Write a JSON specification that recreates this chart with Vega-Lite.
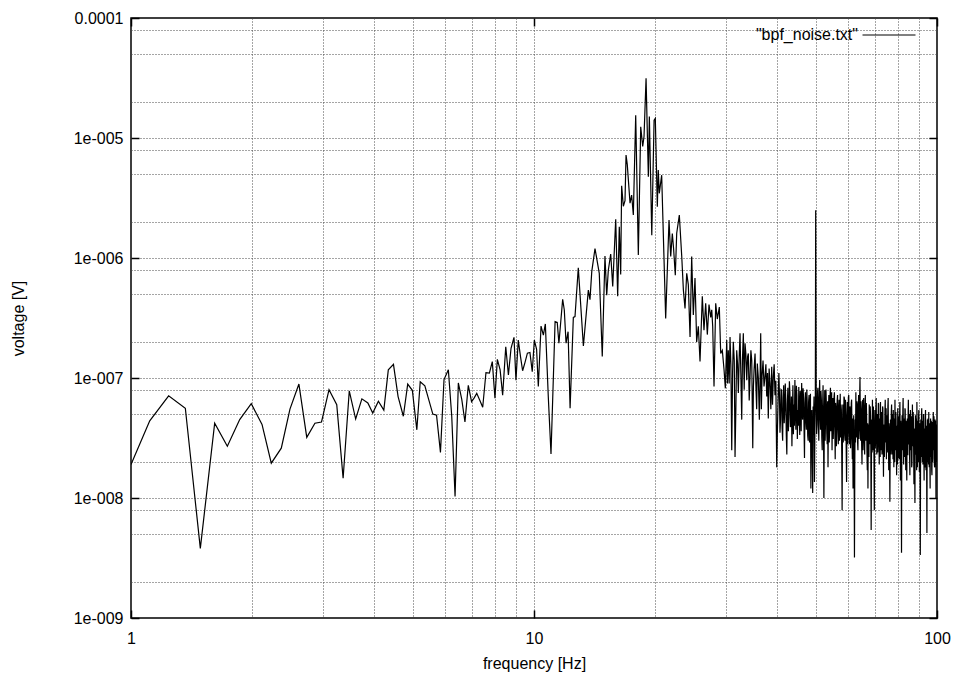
{
"$schema": "https://vega.github.io/schema/vega-lite/v6.json",
"width": 806,
"height": 600,
"autosize": {"type": "none"},
"padding": {"left": 131, "top": 18, "right": 25, "bottom": 63},
"background": "white",
"config": {
  "view": {"stroke": "#000", "strokeWidth": 1.5},
  "font": "Liberation Sans",
  "axis": {"labelFont": "Liberation Sans", "titleFont": "Liberation Sans", "labelFontSize": 16, "titleFontSize": 16, "labelColor": "#000", "titleColor": "#000", "titleFontWeight": "normal", "tickColor": "#000", "domain": false, "labelFlush": false, "labelOverlap": false, "labelBound": false}
},
"data": {"values": [
{"f":1,"v":1.9e-8},{"f":1.113,"v":4.4e-8},{"f":1.24,"v":7.1e-8},{"f":1.364,"v":5.6e-8},{"f":1.486,"v":3.8e-9},{"f":1.613,"v":4.2e-8},{"f":1.734,"v":2.7e-8},{"f":1.861,"v":4.5e-8},{"f":1.988,"v":6.1e-8},{"f":2.114,"v":4.1e-8},{"f":2.229,"v":1.95e-8},{"f":2.36,"v":2.6e-8},{"f":2.48,"v":5.5e-8},
{"f":2.61,"v":8.9e-8},{"f":2.73,"v":3.2e-8},{"f":2.86,"v":4.2e-8},{"f":2.97,"v":4.3e-8},{"f":3.1,"v":8.0e-8},{"f":3.24,"v":6.0e-8},{"f":3.36,"v":1.46e-8},{"f":3.48,"v":7.8e-8},{"f":3.61,"v":4.55e-8},{"f":3.74,"v":6.7e-8},{"f":3.87,"v":6.2e-8},{"f":3.98,"v":5.1e-8},{"f":4.11,"v":6.4e-8},{"f":4.24,"v":5.4e-8},{"f":4.35,"v":1.17e-7},{"f":4.48,"v":1.3e-7},{"f":4.6,"v":7.0e-8},{"f":4.74,"v":4.8e-8},{"f":4.86,"v":8.9e-8},{"f":4.99,"v":7.9e-8},{"f":5.12,"v":3.7e-8},{"f":5.22,"v":9.3e-8},{"f":5.36,"v":8.6e-8},{"f":5.48,"v":6.6e-8},{"f":5.61,"v":5.0e-8},{"f":5.73,"v":4.9e-8},{"f":5.86,"v":2.4e-8},{"f":5.98,"v":9.7e-8},
{"f":6.13,"v":1.17e-7},{"f":6.25,"v":4.8e-8},{"f":6.37,"v":1.03e-8},{"f":6.49,"v":9.1e-8},{"f":6.62,"v":6.6e-8},{"f":6.74,"v":4.3e-8},{"f":6.87,"v":8.7e-8},{"f":7.0,"v":6.35e-8},{"f":7.1,"v":6.8e-8},{"f":7.21,"v":7.45e-8},{"f":7.34,"v":6.5e-8},{"f":7.46,"v":5.7e-8},{"f":7.6,"v":1.11e-7},{"f":7.75,"v":1.1e-7},{"f":7.88,"v":1.37e-7},{"f":8.0,"v":6.8e-8},{"f":8.11,"v":1.43e-7},{"f":8.24,"v":1.17e-7},{"f":8.36,"v":7.2e-8},{"f":8.51,"v":1.82e-7},{"f":8.64,"v":1.06e-7},{"f":8.77,"v":1.77e-7},{"f":8.92,"v":2.18e-7},{"f":9.02,"v":9.6e-8},{"f":9.14,"v":2.07e-7},{"f":9.26,"v":1.5e-7},{"f":9.37,"v":1.15e-7},{"f":9.5,"v":1.35e-7},{"f":9.63,"v":1.61e-7},{"f":9.77,"v":1.63e-7},{"f":9.9,"v":1.13e-7},
{"f":10.02,"v":2.07e-7},{"f":10.15,"v":1.73e-7},{"f":10.25,"v":8.5e-8},{"f":10.41,"v":2.71e-7},{"f":10.55,"v":2.28e-7},{"f":10.67,"v":2.82e-7},{"f":10.85,"v":7.0e-8},{"f":11.02,"v":2.33e-8},{"f":11.28,"v":2.95e-7},{"f":11.42,"v":2.9e-7},{"f":11.53,"v":1.95e-7},{"f":11.78,"v":4.53e-7},{"f":11.89,"v":3.69e-7},{"f":12.01,"v":1.95e-7},{"f":12.15,"v":2.43e-7},{"f":12.29,"v":5.6e-8},{"f":12.52,"v":3.2e-7},{"f":12.64,"v":3.25e-7},{"f":12.88,"v":8.3e-7},{"f":13.26,"v":1.85e-7},{"f":13.64,"v":5.4e-7},{"f":13.77,"v":4.5e-7},{"f":13.91,"v":7.7e-7},{"f":14.17,"v":1.2e-6},{"f":14.52,"v":7.45e-7},{"f":14.77,"v":1.51e-7},{"f":15.0,"v":1.04e-6},{"f":15.15,"v":4.9e-7},{"f":15.29,"v":7.9e-7},{"f":15.5,"v":1.08e-6},{"f":15.68,"v":5.8e-7},{"f":15.95,"v":2.1e-6},{"f":16.13,"v":4.8e-7},{"f":16.28,"v":1.82e-6},{"f":16.41,"v":7.3e-7},{"f":16.5,"v":4.0e-6},{"f":16.66,"v":2.7e-6},{"f":16.82,"v":3.0e-6},{"f":16.92,"v":7.2e-6},{"f":17.04,"v":6.0e-6},{"f":17.31,"v":2.86e-6},{"f":17.47,"v":3.35e-6},{"f":17.64,"v":2.28e-6},{"f":17.88,"v":1.55e-5},{"f":18.15,"v":1.06e-6},{"f":18.4,"v":1.24e-5},{"f":18.61,"v":8.5e-6},{"f":18.75,"v":1.03e-5},{"f":18.97,"v":3.14e-5},{"f":19.22,"v":4.76e-6},{"f":19.33,"v":1.51e-5},{"f":19.6,"v":1.55e-6},{"f":19.86,"v":1.41e-5},{"f":20.0,"v":1.46e-5},{"f":20.23,"v":2.68e-6},{"f":20.34,"v":5.4e-6},{"f":20.46,"v":3.46e-6},{"f":20.74,"v":4.9e-6},{"f":21.22,"v":3.14e-7},{"f":21.63,"v":2.07e-6},{"f":21.84,"v":1.03e-6},{"f":22.04,"v":1.6e-6},{"f":22.2,"v":1.2e-6},{"f":22.42,"v":7.2e-7},{"f":22.6,"v":1.61e-6},{"f":22.94,"v":2.28e-6},
{"f":23.26,"v":1.03e-6},{"f":23.48,"v":5.4e-7},{"f":23.7,"v":3.8e-7},{"f":23.93,"v":7.45e-7},{"f":24.15,"v":6.0e-7},{"f":24.39,"v":2.2e-7},{"f":24.62,"v":1.03e-6},{"f":24.85,"v":3.35e-7},{"f":25.09,"v":6.8e-7},{"f":25.33,"v":2.0e-7},{"f":25.57,"v":2.7e-7},{"f":25.82,"v":1.37e-7},{"f":26.16,"v":4.8e-7},{"f":26.41,"v":2.5e-7},{"f":26.67,"v":4.2e-7},{"f":26.92,"v":2.3e-7},{"f":27.18,"v":4.1e-7},{"f":27.45,"v":3.2e-7},{"f":27.61,"v":3.7e-7},{"f":27.76,"v":2.7e-7},{"f":27.97,"v":8.5e-8},{"f":28.24,"v":4.2e-7},{"f":28.5,"v":3.1e-7},{"f":28.83,"v":3.9e-7},{"f":29.06,"v":1.6e-7},{"f":29.33,"v":1.7e-7},{"f":29.62,"v":1.17e-7},{"f":29.84,"v":8.2e-8},{"f":30.08,"v":2.07e-7},{"f":30.2,"v":9.0e-8},{"f":30.35,"v":1.7e-7},{"f":30.5,"v":9.0e-8},{"f":30.65,"v":2.2e-7},{"f":30.8,"v":1.3e-7},{"f":30.95,"v":2.5e-8},{"f":31.1,"v":1.1e-7},{"f":31.23,"v":2.0e-7},{"f":31.4,"v":1.4e-7},{"f":31.54,"v":2.2e-8},{"f":31.7,"v":6.0e-8},{"f":31.84,"v":1.7e-7},{"f":32.0,"v":1.3e-7},{"f":32.14,"v":7.5e-8},{"f":32.3,"v":1.5e-7},{"f":32.45,"v":2.36e-7},{"f":32.6,"v":1.1e-7},{"f":32.77,"v":4.5e-8},{"f":32.9,"v":1.4e-7},{"f":33.07,"v":2.36e-7},{"f":33.23,"v":8.0e-8},{"f":33.39,"v":1.95e-7},{"f":33.55,"v":1.6e-7},{"f":33.72,"v":9.6e-8},{"f":33.88,"v":1.5e-7},{"f":34.03,"v":1.6e-7},{"f":34.2,"v":6.5e-8},{"f":34.36,"v":1.03e-7},{"f":34.53,"v":1.7e-7},{"f":34.7,"v":1.4e-7},{"f":34.9,"v":2.6e-8},{"f":35.03,"v":8.5e-8},{"f":35.16,"v":1.17e-7},{"f":35.36,"v":1.6e-7},{"f":35.56,"v":7.9e-8},{"f":35.69,"v":5.5e-8},{"f":35.82,"v":1.32e-7},{"f":36.03,"v":1.0e-7},{"f":36.24,"v":4.5e-8},{"f":36.38,"v":9.0e-8},{"f":36.52,"v":2.36e-7},{"f":36.66,"v":5.5e-8},{"f":36.8,"v":1.03e-7},{"f":37.01,"v":1.4e-7},{"f":37.22,"v":8.5e-8},{"f":37.43,"v":1.03e-7},{"f":37.62,"v":1.3e-7},{"f":37.8,"v":7.0e-8},{"f":37.97,"v":1.1e-7},{"f":38.14,"v":4.6e-8},{"f":38.32,"v":1.2e-7},{"f":38.51,"v":9.0e-8},{"f":38.7,"v":5.5e-8},{"f":38.89,"v":1.24e-7},{"f":39.07,"v":6.0e-8},{"f":39.25,"v":1.03e-7},{"f":39.44,"v":1.3e-7},{"f":39.63,"v":7.2e-8},{"f":39.82,"v":9.5e-8},{"f":40.02,"v":1.8e-8},{"f":40.2,"v":4.0e-8},{"f":40.39,"v":7.9e-8},{"f":40.52,"v":1.1e-7},
{"f":40.65,"v":7.2e-8},{"f":40.775,"v":3.5e-8},{"f":40.9,"v":4.5e-8},{"f":41.025,"v":8.0e-8},{"f":41.15,"v":7.9e-8},{"f":41.275,"v":3.8e-8},{"f":41.4,"v":3.0e-8},{"f":41.525,"v":6.8e-8},{"f":41.65,"v":8.7e-8},{"f":41.775,"v":4.2e-8},{"f":41.9,"v":5.4e-8},{"f":42.025,"v":9.0e-8},{"f":42.15,"v":6.6e-8},{"f":42.275,"v":3.3e-8},{"f":42.4,"v":2.3e-8},{"f":42.525,"v":6.0e-8},{"f":42.65,"v":8.3e-8},{"f":42.775,"v":3.6e-8},{"f":42.9,"v":4.9e-8},{"f":43.025,"v":9.4e-8},{"f":43.15,"v":7.6e-8},{"f":43.275,"v":3.9e-8},{"f":43.4,"v":4.1e-8},{"f":43.525,"v":7.0e-8},{"f":43.65,"v":2.7e-8},{"f":43.775,"v":5.2e-8},{"f":43.9,"v":8.7e-8},{"f":44.025,"v":3.4e-8},{"f":44.15,"v":6.0e-8},{"f":44.275,"v":4.0e-8},{"f":44.4,"v":9.6e-8},{"f":44.525,"v":5.6e-8},{"f":44.65,"v":3.7e-8},{"f":44.775,"v":8.6e-8},{"f":44.9,"v":7.2e-8},{"f":45.025,"v":3.1e-8},{"f":45.15,"v":5.4e-8},{"f":45.275,"v":4.0e-8},{"f":45.4,"v":8.4e-8},{"f":45.525,"v":5.0e-8},{"f":45.65,"v":3.35e-8},{"f":45.775,"v":7.8e-8},{"f":45.9,"v":6.6e-8},{"f":46.025,"v":3.6e-8},{"f":46.15,"v":9.1e-8},{"f":46.275,"v":5.8e-8},{"f":46.4,"v":4.5e-8},{"f":46.525,"v":8.2e-8},{"f":46.65,"v":6.8e-8},{"f":46.775,"v":3.9e-8},{"f":46.9,"v":2.15e-8},{"f":47.025,"v":6.2e-8},{"f":47.15,"v":7.6e-8},{"f":47.275,"v":4.4e-8},{"f":47.4,"v":3.7e-8},{"f":47.525,"v":8.0e-8},{"f":47.65,"v":6.0e-8},{"f":47.775,"v":3.3e-8},{"f":47.9,"v":3.0e-8},{"f":48.025,"v":6.4e-8},{"f":48.15,"v":7.2e-8},{"f":48.275,"v":2.9e-8},{"f":48.4,"v":4.9e-8},{"f":48.525,"v":7.4e-8},{"f":48.65,"v":1.2e-8},{"f":48.775,"v":4.0e-8},{"f":48.9,"v":5.4e-8},{"f":49.025,"v":2.6e-8},{"f":49.15,"v":1.1e-8},{"f":49.275,"v":5.8e-8},{"f":49.4,"v":4.5e-8},{"f":49.525,"v":7.0e-8},{"f":49.65,"v":1.36e-8},{"f":49.775,"v":3.6e-8},{"f":49.9,"v":6.6e-8},{"f":50.0,"v":2.5e-6},{"f":50.15,"v":7.2e-8},{"f":50.275,"v":3.4e-8},{"f":50.4,"v":4.1e-8},{"f":50.525,"v":7.6e-8},{"f":50.65,"v":8.3e-8},{"f":50.775,"v":4.4e-8},{"f":50.9,"v":3.0e-8},{"f":51.025,"v":6.6e-8},{"f":51.15,"v":9.6e-8},{"f":51.275,"v":5.0e-8},{"f":51.4,"v":3.7e-8},{"f":51.525,"v":7.8e-8},{"f":51.65,"v":6.6e-8},{"f":51.775,"v":3.2e-8},{"f":51.9,"v":2.5e-8},{"f":52.025,"v":5.8e-8},{"f":52.15,"v":8.7e-8},{"f":52.275,"v":4.6e-8},{"f":52.4,"v":1.0e-8},{"f":52.525,"v":4.2e-8},{"f":52.65,"v":7.9e-8},{"f":52.775,"v":3.0e-8},{"f":52.9,"v":4.5e-8},{"f":53.025,"v":8.0e-8},{"f":53.15,"v":6.0e-8},{"f":53.275,"v":3.5e-8},{"f":53.4,"v":2.8e-8},{"f":53.525,"v":6.4e-8},{"f":53.65,"v":1.8e-8},{"f":53.775,"v":4.8e-8},{"f":53.9,"v":7.2e-8},{"f":54.025,"v":2.9e-8},{"f":54.15,"v":3.7e-8},{"f":54.275,"v":7.0e-8},{"f":54.4,"v":8.3e-8},{"f":54.525,"v":3.6e-8},{"f":54.65,"v":4.9e-8},{"f":54.775,"v":7.6e-8},{"f":54.9,"v":2.5e-8},{"f":55.025,"v":5.4e-8},{"f":55.15,"v":6.8e-8},{"f":55.275,"v":3.1e-8},{"f":55.4,"v":4.1e-8},{"f":55.525,"v":6.9e-8},{"f":55.65,"v":7.6e-8},{"f":55.775,"v":3.8e-8},{"f":55.9,"v":2.1e-8},{"f":56.025,"v":6.2e-8},{"f":56.15,"v":5.6e-8},{"f":56.275,"v":2.7e-8},{"f":56.4,"v":3.7e-8},{"f":56.525,"v":6.5e-8},{"f":56.65,"v":7.2e-8},{"f":56.775,"v":3.9e-8},{"f":56.9,"v":2.8e-8},{"f":57.025,"v":5.5e-8},{"f":57.15,"v":6.6e-8},{"f":57.275,"v":3.0e-8},{"f":57.4,"v":4.5e-8},{"f":57.525,"v":7.4e-8},{"f":57.65,"v":3.2e-8},{"f":57.775,"v":6.0e-8},{"f":57.9,"v":5.4e-8},{"f":58.025,"v":2.4e-8},{"f":58.15,"v":7.9e-9},{"f":58.275,"v":3.8e-8},{"f":58.4,"v":6.0e-8},{"f":58.525,"v":2.9e-8},{"f":58.65,"v":3.7e-8},{"f":58.775,"v":7.0e-8},{"f":58.9,"v":6.8e-8},{"f":59.025,"v":3.3e-8},{"f":59.15,"v":3.0e-8},{"f":59.275,"v":6.6e-8},{"f":59.4,"v":4.9e-8},{"f":59.525,"v":2.6e-8},{"f":59.65,"v":1.36e-8},{"f":59.775,"v":4.4e-8},{"f":59.9,"v":6.3e-8},{"f":60.025,"v":2.8e-8},
{"f":60.15,"v":4.1e-8},{"f":60.275,"v":6.9e-8},{"f":60.4,"v":7.2e-8},{"f":60.525,"v":3.4e-8},{"f":60.65,"v":2.8e-8},{"f":60.775,"v":5.8e-8},{"f":60.9,"v":5.4e-8},{"f":61.025,"v":2.6e-8},{"f":61.15,"v":3.35e-8},{"f":61.275,"v":6.2e-8},{"f":61.4,"v":6.6e-8},{"f":61.525,"v":3.3e-8},{"f":61.65,"v":2.1e-8},{"f":61.775,"v":4.6e-8},{"f":61.9,"v":1.2e-8},{"f":62.025,"v":3.9e-8},{"f":62.15,"v":4.9e-8},{"f":62.275,"v":2.2e-8},{"f":62.4,"v":3.2e-9},{"f":62.525,"v":2.0e-8},{"f":62.65,"v":4.5e-8},{"f":62.775,"v":2.9e-8},{"f":62.9,"v":7.6e-8},{"f":63.025,"v":4.2e-8},{"f":63.15,"v":3.2e-8},{"f":63.275,"v":6.4e-8},{"f":63.4,"v":6.0e-8},{"f":63.525,"v":2.9e-8},{"f":63.65,"v":2.5e-8},{"f":63.775,"v":5.6e-8},{"f":63.9,"v":7.2e-8},{"f":64.025,"v":3.1e-8},{"f":64.15,"v":3.7e-8},{"f":64.275,"v":6.8e-8},{"f":64.4,"v":1.02e-7},{"f":64.525,"v":4.6e-8},{"f":64.65,"v":3.0e-8},{"f":64.775,"v":6.4e-8},{"f":64.9,"v":5.4e-8},{"f":65.025,"v":2.7e-8},{"f":65.15,"v":1.9e-8},{"f":65.275,"v":4.8e-8},{"f":65.4,"v":6.6e-8},{"f":65.525,"v":2.5e-8},{"f":65.65,"v":3.7e-8},{"f":65.775,"v":6.8e-8},{"f":65.9,"v":5.2e-8},{"f":66.025,"v":2.9e-8},{"f":66.15,"v":2.3e-8},{"f":66.275,"v":5.6e-8},{"f":66.4,"v":7.2e-8},{"f":66.525,"v":3.3e-8},{"f":66.65,"v":3.0e-8},{"f":66.775,"v":6.2e-8},{"f":66.9,"v":4.6e-8},{"f":67.025,"v":2.4e-8},{"f":67.15,"v":1.7e-8},{"f":67.275,"v":4.2e-8},{"f":67.4,"v":1.2e-8},{"f":67.525,"v":3.6e-8},{"f":67.65,"v":4.1e-8},{"f":67.775,"v":2.2e-8},{"f":67.9,"v":6.0e-8},{"f":68.025,"v":3.4e-8},{"f":68.15,"v":2.8e-8},{"f":68.275,"v":5.8e-8},{"f":68.4,"v":4.9e-8},{"f":68.525,"v":2.5e-8},{"f":68.65,"v":5.4e-9},{"f":68.775,"v":2.6e-8},{"f":68.9,"v":4.5e-8},{"f":69.025,"v":2.4e-8},{"f":69.15,"v":6.6e-8},{"f":69.275,"v":3.6e-8},{"f":69.4,"v":2.5e-8},{"f":69.525,"v":5.8e-8},{"f":69.65,"v":4.1e-8},{"f":69.775,"v":2.0e-8},{"f":69.9,"v":7.9e-9},{"f":70.025,"v":3.3e-8},
{"f":70.15,"v":5.4e-8},{"f":70.275,"v":2.6e-8},{"f":70.4,"v":3.0e-8},{"f":70.525,"v":5.6e-8},{"f":70.65,"v":6.8e-8},{"f":70.775,"v":3.5e-8},{"f":70.9,"v":2.3e-8},{"f":71.025,"v":5.0e-8},{"f":71.15,"v":4.5e-8},{"f":71.275,"v":2.4e-8},{"f":71.4,"v":3.35e-8},{"f":71.525,"v":6.2e-8},{"f":71.65,"v":6.0e-8},{"f":71.775,"v":3.0e-8},{"f":71.9,"v":1.9e-8},{"f":72.025,"v":4.6e-8},{"f":72.15,"v":3.8e-8},{"f":72.275,"v":2.2e-8},{"f":72.4,"v":6.3e-8},{"f":72.525,"v":3.4e-8},{"f":72.65,"v":2.5e-8},{"f":72.775,"v":5.2e-8},{"f":72.9,"v":4.6e-8},{"f":73.025,"v":2.3e-8},{"f":73.15,"v":3.0e-8},{"f":73.275,"v":5.8e-8},{"f":73.4,"v":5.6e-8},{"f":73.525,"v":2.8e-8},{"f":73.65,"v":1.5e-8},{"f":73.775,"v":3.9e-8},{"f":73.9,"v":4.1e-8},{"f":74.025,"v":2.2e-8},{"f":74.15,"v":2.8e-8},{"f":74.275,"v":5.4e-8},{"f":74.4,"v":6.6e-8},{"f":74.525,"v":2.9e-8},{"f":74.65,"v":3.35e-8},{"f":74.775,"v":5.6e-8},{"f":74.9,"v":2.1e-8},{"f":75.025,"v":4.4e-8},{"f":75.15,"v":4.9e-8},{"f":75.275,"v":2.4e-8},{"f":75.4,"v":3.0e-8},{"f":75.525,"v":5.8e-8},{"f":75.65,"v":6.8e-8},{"f":75.775,"v":3.2e-8},{"f":75.9,"v":1.7e-8},{"f":76.025,"v":4.2e-8},{"f":76.15,"v":3.7e-8},{"f":76.275,"v":2.0e-8},{"f":76.4,"v":9.3e-9},{"f":76.525,"v":2.6e-8},{"f":76.65,"v":4.5e-8},{"f":76.775,"v":2.3e-8},{"f":76.9,"v":2.8e-8},{"f":77.025,"v":5.2e-8},{"f":77.15,"v":6.0e-8},{"f":77.275,"v":3.1e-8},{"f":77.4,"v":2.3e-8},{"f":77.525,"v":5.0e-8},{"f":77.65,"v":3.8e-8},{"f":77.775,"v":2.1e-8},{"f":77.9,"v":5.4e-8},{"f":78.025,"v":3.0e-8},{"f":78.15,"v":1.8e-8},{"f":78.275,"v":4.6e-8},{"f":78.4,"v":3.5e-8},{"f":78.525,"v":2.0e-8},{"f":78.65,"v":6.6e-8},{"f":78.775,"v":3.4e-8},{"f":78.9,"v":2.5e-8},{"f":79.025,"v":5.2e-8},{"f":79.15,"v":4.5e-8},{"f":79.275,"v":2.6e-8},{"f":79.4,"v":1.55e-8},{"f":79.525,"v":4.0e-8},{"f":79.65,"v":3.2e-8},{"f":79.775,"v":1.9e-8},{"f":79.9,"v":5.6e-8},{"f":80.025,"v":3.0e-8},
{"f":80.15,"v":2.15e-8},{"f":80.275,"v":4.8e-8},{"f":80.4,"v":4.1e-8},{"f":80.525,"v":2.1e-8},{"f":80.65,"v":2.8e-8},{"f":80.775,"v":5.0e-8},{"f":80.9,"v":6.3e-8},{"f":81.025,"v":3.2e-8},{"f":81.15,"v":1.4e-8},{"f":81.275,"v":4.4e-8},{"f":81.4,"v":3.7e-8},{"f":81.525,"v":1.6e-8},{"f":81.65,"v":3.5e-9},{"f":81.775,"v":2.2e-8},{"f":81.9,"v":4.9e-8},{"f":82.025,"v":2.5e-8},{"f":82.15,"v":2.6e-8},{"f":82.275,"v":5.4e-8},{"f":82.4,"v":6.8e-8},{"f":82.525,"v":3.3e-8},{"f":82.65,"v":1.9e-8},{"f":82.775,"v":4.6e-8},{"f":82.9,"v":4.1e-8},{"f":83.025,"v":2.2e-8},{"f":83.15,"v":3.0e-8},{"f":83.275,"v":5.6e-8},{"f":83.4,"v":5.4e-8},{"f":83.525,"v":2.6e-8},{"f":83.65,"v":1.7e-8},{"f":83.775,"v":4.4e-8},{"f":83.9,"v":3.5e-8},{"f":84.025,"v":2.0e-8},{"f":84.15,"v":1.4e-8},{"f":84.275,"v":3.6e-8},{"f":84.4,"v":4.6e-8},{"f":84.525,"v":2.3e-8},{"f":84.65,"v":2.3e-8},{"f":84.775,"v":4.8e-8},{"f":84.9,"v":6.6e-8},{"f":85.025,"v":3.0e-8},{"f":85.15,"v":2.8e-8},{"f":85.275,"v":5.0e-8},{"f":85.4,"v":4.1e-8},{"f":85.525,"v":2.1e-8},{"f":85.65,"v":1.55e-8},{"f":85.775,"v":4.0e-8},{"f":85.9,"v":5.4e-8},{"f":86.025,"v":2.6e-8},{"f":86.15,"v":2.5e-8},{"f":86.275,"v":4.8e-8},{"f":86.4,"v":3.35e-8},{"f":86.525,"v":1.8e-8},{"f":86.65,"v":1.9e-8},{"f":86.775,"v":4.2e-8},{"f":86.9,"v":6.0e-8},{"f":87.025,"v":2.7e-8},{"f":87.15,"v":3.0e-8},{"f":87.275,"v":5.2e-8},{"f":87.4,"v":4.5e-8},{"f":87.525,"v":2.3e-8},{"f":87.65,"v":1.3e-8},{"f":87.775,"v":3.8e-8},{"f":87.9,"v":3.7e-8},{"f":88.025,"v":1.9e-8},{"f":88.15,"v":9.1e-9},{"f":88.275,"v":3.1e-8},{"f":88.4,"v":4.9e-8},{"f":88.525,"v":2.4e-8},{"f":88.65,"v":2.3e-8},{"f":88.775,"v":4.6e-8},{"f":88.9,"v":3.2e-8},{"f":89.025,"v":1.7e-8},{"f":89.15,"v":6.3e-8},{"f":89.275,"v":3.0e-8},{"f":89.4,"v":1.8e-8},{"f":89.525,"v":4.4e-8},{"f":89.65,"v":4.1e-8},{"f":89.775,"v":2.0e-8},{"f":89.9,"v":2.6e-8},{"f":90.025,"v":4.8e-8},
{"f":90.15,"v":5.4e-8},{"f":90.275,"v":2.8e-8},{"f":90.4,"v":1.65e-8},{"f":90.525,"v":4.2e-8},{"f":90.65,"v":3.5e-8},{"f":90.775,"v":1.6e-8},{"f":90.9,"v":3.35e-9},{"f":91.025,"v":2.0e-8},{"f":91.15,"v":4.5e-8},{"f":91.275,"v":2.2e-8},{"f":91.4,"v":2.5e-8},{"f":91.525,"v":4.8e-8},{"f":91.65,"v":5.6e-8},{"f":91.775,"v":2.8e-8},{"f":91.9,"v":2.0e-8},{"f":92.025,"v":4.4e-8},{"f":92.15,"v":3.7e-8},{"f":92.275,"v":1.9e-8},{"f":92.4,"v":2.8e-8},{"f":92.525,"v":5.0e-8},{"f":92.65,"v":4.9e-8},{"f":92.775,"v":2.4e-8},{"f":92.9,"v":1.4e-8},{"f":93.025,"v":3.6e-8},{"f":93.15,"v":3.8e-8},{"f":93.275,"v":1.8e-8},{"f":93.4,"v":2.3e-8},{"f":93.525,"v":4.6e-8},{"f":93.65,"v":5.4e-8},{"f":93.775,"v":2.6e-8},{"f":93.9,"v":1.7e-8},{"f":94.025,"v":4.0e-8},{"f":94.15,"v":3.0e-8},{"f":94.275,"v":1.5e-8},{"f":94.4,"v":5.1e-9},{"f":94.525,"v":2.4e-8},{"f":94.65,"v":4.5e-8},{"f":94.775,"v":2.0e-8},{"f":94.9,"v":2.4e-8},{"f":95.025,"v":4.6e-8},{"f":95.15,"v":3.35e-8},{"f":95.275,"v":1.9e-8},{"f":95.4,"v":5.2e-8},{"f":95.525,"v":2.7e-8},{"f":95.65,"v":1.8e-8},{"f":95.775,"v":4.2e-8},{"f":95.9,"v":3.7e-8},{"f":96.025,"v":1.9e-8},{"f":96.15,"v":1.2e-8},{"f":96.275,"v":3.4e-8},{"f":96.4,"v":4.6e-8},{"f":96.525,"v":2.2e-8},{"f":96.65,"v":2.5e-8},{"f":96.775,"v":4.4e-8},{"f":96.9,"v":3.2e-8},{"f":97.025,"v":1.7e-8},{"f":97.15,"v":1.55e-8},{"f":97.275,"v":3.8e-8},{"f":97.4,"v":4.3e-8},{"f":97.525,"v":2.0e-8},{"f":97.65,"v":2.15e-8},{"f":97.775,"v":4.2e-8},{"f":97.9,"v":5.2e-8},{"f":98.025,"v":2.5e-8},{"f":98.15,"v":2.8e-8},{"f":98.275,"v":4.8e-8},{"f":98.4,"v":3.7e-8},{"f":98.525,"v":1.9e-8},{"f":98.65,"v":1.8e-8},{"f":98.775,"v":4.0e-8},{"f":98.9,"v":4.5e-8},{"f":99.025,"v":2.1e-8},{"f":99.15,"v":2.3e-8},{"f":99.275,"v":4.4e-8},{"f":99.4,"v":1.0e-8},{"f":99.525,"v":2.6e-8},{"f":99.65,"v":4.1e-8},{"f":99.775,"v":2.0e-8},{"f":99.9,"v":3.0e-8},{"f":100,"v":3.6e-8}
]},
"layer": [
  {
    "mark": {"type": "line", "opacity": 0, "strokeWidth": 0},
    "encoding": {
      "x": {"field": "f", "type": "quantitative", "scale": {"type": "log", "domain": [1, 100], "nice": false},
        "axis": {"orient": "bottom", "values": [2,3,4,5,6,7,8,9,10,20,30,40,50,60,70,80,90], "grid": true, "gridDash": [1,2], "gridColor": "#4a4a4a", "gridWidth": 1, "ticks": false, "labels": false, "title": null, "domain": false}},
      "y": {"field": "v", "type": "quantitative", "scale": {"type": "log", "domain": [1e-9, 1e-4], "nice": false},
        "axis": {"orient": "left", "values": [2e-9,5e-9,8e-9,1e-8,2e-8,5e-8,8e-8,1e-7,2e-7,5e-7,8e-7,1e-6,2e-6,5e-6,8e-6,1e-5,2e-5,5e-5,8e-5], "grid": true, "gridDash": [1,2], "gridColor": "#4a4a4a", "gridWidth": 1, "ticks": false, "labels": false, "title": null, "domain": false}}
    }
  },
  {
    "mark": {"type": "line", "strokeWidth": 1.2, "clip": true},
    "encoding": {
      "x": {"field": "f", "type": "quantitative", "scale": {"type": "log", "domain": [1, 100], "nice": false},
        "axis": {"orient": "bottom", "values": [1, 10, 100], "format": "d", "grid": false, "ticks": true, "tickSize": -8, "tickWidth": 1.5, "labelPadding": 20, "title": "frequency [Hz]", "titleX": 403, "titleY": 45, "titleBaseline": "middle", "titleAlign": "center"}},
      "y": {"field": "v", "type": "quantitative", "scale": {"type": "log", "domain": [1e-9, 1e-4], "nice": false},
        "axis": {"orient": "left", "values": [1e-9, 1e-8, 1e-7, 1e-6, 1e-5, 1e-4], "labelExpr": "datum.value >= 9e-5 ? '0.0001' : '1e-00' + round(-log(datum.value)/LN10)", "grid": false, "ticks": true, "tickSize": -8, "tickWidth": 1.5, "labelPadding": 16, "title": "voltage [V]", "titleX": -113, "titleY": 300, "titleAngle": -90, "titleBaseline": "middle", "titleAlign": "center"}},
      "color": {"datum": "\"bpf_noise.txt\"", "type": "nominal", "scale": {"range": ["#000000"]},
        "legend": {"orient": "none", "legendX": 724, "legendY": -10, "title": null, "padding": 0, "labelAlign": "right", "labelOffset": -58, "symbolOffset": 7, "symbolType": "stroke", "symbolSize": 2809, "symbolStrokeWidth": 1, "labelFontSize": 16, "labelFont": "Liberation Sans", "labelColor": "#000"}}
    }
  },
  {
    "mark": {"type": "line", "opacity": 0, "strokeWidth": 0},
    "encoding": {
      "x": {"field": "f", "type": "quantitative", "scale": {"type": "log", "domain": [1, 100], "nice": false},
        "axis": {"orient": "top", "values": [1, 10, 100], "grid": false, "ticks": true, "tickSize": -8, "tickWidth": 1.5, "labels": false, "title": null}},
      "y": {"field": "v", "type": "quantitative", "scale": {"type": "log", "domain": [1e-9, 1e-4], "nice": false},
        "axis": {"orient": "right", "values": [1e-9, 1e-8, 1e-7, 1e-6, 1e-5, 1e-4], "grid": false, "ticks": true, "tickSize": -8, "tickWidth": 1.5, "labels": false, "title": null}}
    }
  }
],
"resolve": {"axis": {"x": "independent", "y": "independent"}}
}
